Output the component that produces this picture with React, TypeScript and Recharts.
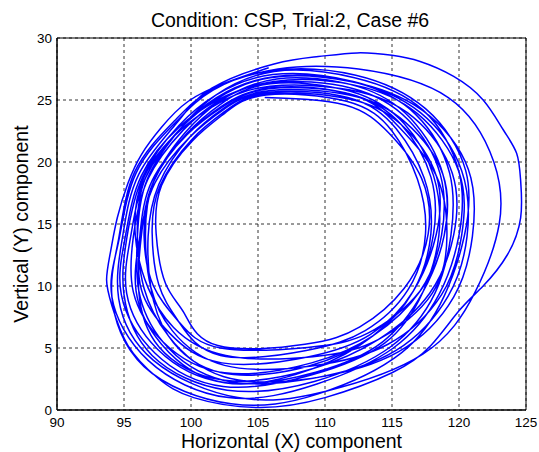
import {
  LineChart, Line, XAxis, YAxis, CartesianGrid, ReferenceArea,
} from "recharts";

// each loop of the trajectory, clockwise from the top, [x, y]
const loop01 = [[106, 26.4], [112, 25.95], [116.2, 23.4], [118.6, 19.0], [118.7, 14.1], [117.1, 9.6], [113.6, 6.0], [109, 3.8], [102.5, 3.0], [97.9, 5.5], [95.7, 9.5], [95.7, 14], [96.8, 18.65], [99.4, 22.55], [102.05, 24.9]];
const loop02 = [[105.8, 25.9], [111.8, 25.5], [115.7, 23.0], [117.9, 18.8], [118.1, 14.2], [116.6, 9.6], [113.4, 6.1], [108.8, 4.3], [102.3, 3.8], [98.4, 6.2], [96.3, 9.7], [96.2, 14.2], [97.1, 18.5], [99.7, 22.2], [102.3, 24.5]];
const loop03 = [[106.3, 26.9], [112.3, 26.4], [116.8, 23.8], [119.3, 19.1], [119.4, 14.1], [118.2, 9.4], [114.9, 5.1], [109.2, 2.3], [102.7, 1.6], [97.1, 4.4], [95.0, 9.3], [95.2, 13.8], [96.4, 18.8], [99.1, 22.95], [101.85, 25.4]];
const loop04 = [[105.6, 25.4], [111.6, 24.9], [115.0, 22.5], [116.9, 18.6], [117.5, 14.2], [116.2, 9.7], [113.0, 6.4], [108.6, 4.8], [102.2, 4.4], [99.1, 7.1], [97.6, 10.1], [97.1, 14.3], [97.7, 18.1], [100.05, 21.8], [102.55, 24.1]];
const loop05 = [[106.2, 27.3], [112.2, 26.8], [117.3, 24.2], [120.0, 19.2], [120.0, 14.1], [118.5, 9.3], [115.1, 5.0], [109.4, 2.1], [102.8, 1.0], [96.8, 4.0], [94.1, 9.1], [94.6, 13.6], [95.9, 19.1], [98.85, 23.2], [101.65, 25.8]];
const loop06 = [[105.9, 26.1], [111.9, 25.8], [116.6, 23.6], [119.5, 19.1], [119.6, 14.1], [117.8, 9.4], [114.0, 5.7], [109, 3.3], [102.5, 2.4], [97.6, 5.1], [96.1, 9.65], [96.3, 14.1], [97.2, 18.4], [99.65, 22.25], [102.2, 24.65]];
const loop07 = [[106.4, 26.7], [112.4, 26.1], [116.4, 23.5], [118.8, 19.0], [118.9, 14.1], [117.3, 9.5], [114.3, 5.5], [109.3, 3.05], [102.6, 2.2], [97.5, 4.9], [95.2, 9.4], [95.5, 14], [96.6, 18.7], [99.25, 22.75], [101.95, 25.1]];
const loop08 = [[105.7, 25.6], [111.7, 25.2], [115.3, 22.7], [117.4, 18.7], [117.9, 14.2], [116.6, 9.6], [113.6, 6.0], [108.8, 3.55], [102.3, 3.0], [98.3, 6.0], [97.0, 9.9], [96.8, 14], [97.6, 18.2], [99.9, 22.0], [102.45, 24.35]];
const loop09 = [[106.1, 27.05], [112.1, 26.5], [117.1, 24.0], [120.2, 19.3], [120.6, 14.0], [119.2, 9.2], [115.3, 4.8], [109.1, 2.55], [102.4, 2.4], [97.9, 5.5], [96.1, 9.65], [96.0, 14], [96.75, 18.65], [99.25, 22.75], [101.85, 25.4]];
const loop10 = [[105.9, 26.3], [111.9, 25.7], [115.9, 23.1], [118.1, 18.9], [118.5, 14.1], [117.3, 9.5], [114.45, 5.4], [108.9, 2.8], [102.4, 1.9], [97.3, 4.6], [94.8, 9.3], [95.1, 14], [96.3, 18.9], [99.15, 22.85], [102.0, 25.0]];
const loop11 = [[106.2, 26.5], [112.2, 26.2], [116.9, 23.9], [120.0, 19.2], [120.2, 14.1], [118.7, 9.3], [114.7, 5.3], [109, 3.55], [102.5, 3.6], [98.6, 6.4], [97.0, 9.9], [96.6, 14], [97.2, 18.4], [99.55, 22.35], [102.1, 24.85]];
const loop12 = [[105.8, 25.75], [111.8, 25.4], [116.0, 23.2], [118.8, 19.0], [118.9, 14.1], [117.1, 9.6], [113.2, 6.2], [108.7, 5.05], [102.2, 5.0], [99.1, 7.1], [97.2, 10.0], [96.5, 14], [97.2, 18.4], [99.7, 22.2], [102.35, 24.45]];
const loop13 = [[106.3, 27.4], [112.3, 27.0], [117.5, 24.3], [120.5, 19.3], [120.4, 14.05], [118.9, 9.2], [115.7, 4.6], [109.5, 1.3], [103, 0.5], [96.5, 3.5], [94.1, 9.1], [94.6, 13.8], [95.8, 19.2], [98.75, 23.3], [101.6, 25.85]];
const loop14 = [[105.5, 25.2], [111.5, 24.6], [114.8, 22.3], [117.2, 18.7], [117.7, 14.2], [115.9, 9.8], [112.6, 6.7], [108.5, 5.3], [102, 5.2], [99.5, 7.8], [98.1, 10.2], [97.4, 14.2], [97.8, 18.1], [100.1, 21.7], [102.6, 24.0]];
const loop15 = [[106.5, 27.5], [112.5, 27.5], [119.2, 25.2], [122.6, 20], [123, 15], [121.2, 9.5], [117.3, 4.5], [110, 1.5], [103.5, 1.0], [97.2, 4.0], [94.6, 9.0], [94.9, 14], [96.1, 19], [98.9, 23.1], [101.55, 25.95]];
const loop16 = [[106.1, 26.0], [112.1, 25.4], [115.5, 22.85], [118.3, 18.9], [119.1, 14.1], [118.0, 9.4], [114.0, 5.7], [109.1, 4.3], [102.6, 4.4], [98.7, 6.65], [96.8, 9.85], [95.85, 14], [96.5, 18.8], [99.3, 22.65], [102.15, 24.8]];
const loop17 = [[105.9, 26.8], [111.9, 26.5], [117.3, 24.15], [120.7, 19.4], [121.0, 14.0], [119.6, 9.1], [115.5, 4.7], [109.0, 2.55], [102.4, 2.7], [98.3, 6.0], [96.5, 9.8], [96.0, 14], [96.6, 18.7], [99.25, 22.75], [101.9, 25.2]];
const loop18 = [[105.7, 25.5], [111.7, 25.1], [115.7, 23.0], [118.3, 18.9], [118.3, 14.15], [116.6, 9.6], [113.6, 6.0], [109, 3.3], [102.5, 2.2], [97.8, 5.3], [95.9, 9.6], [96.2, 14], [97.3, 18.3], [99.9, 22.0], [102.45, 24.25]];
// the one wide loop that reaches x = 124.6
const loop19 = [[106.2, 27.9], [109.5, 28.5], [112.4, 28.8], [115, 28.6], [117.1, 28.1], [119.6, 26.9], [121.8, 25], [123.3, 22.6], [124.3, 20.7], [124.6, 18.5], [124.6, 15.5], [123.6, 12.5], [121.8, 10], [120, 8], [117.9, 5.2], [115, 3], [110, 1.0], [105, 0.2], [100.2, 1.0], [97.5, 2.6], [95.3, 5.2], [94.1, 8.4], [93.7, 10.5], [94.0, 12.8], [94.5, 15.5], [95.3, 18.3], [96.3, 20.6], [97.8, 22.8], [99.8, 24.9], [102.6, 26.4], [105.8, 27.6]];

// the trajectory spirals outward, loop by loop
const loops = [
  loop14, loop04, loop18, loop08, loop12, loop02, loop16, loop06, loop10, loop01,
  loop11, loop07, loop17, loop03, loop09, loop05, loop13, loop15, loop19,
];

const xTicks = [90, 95, 100, 105, 110, 115, 120, 125];
const yTicks = [0, 5, 10, 15, 20, 25, 30];

const title = "Condition: CSP, Trial:2, Case #6";
const xLabel = "Horizontal (X) component";
const yLabel = "Vertical (Y) component";

const font = "'Liberation Sans', Arial, Helvetica, sans-serif";

// one continuous path through all the loops
const trajectory = loops.flat().map(([x, y]) => ({ x, y }));

export default function App() {
  return (
    <div style={{ position: "absolute", left: 0, top: 0, width: 539, height: 452, background: "#fff", fontFamily: font }}>
      <LineChart
        width={539}
        height={452}
        margin={{ top: 38, right: 13, bottom: 0, left: 0 }}
      >
        <CartesianGrid stroke="#000" strokeDasharray="3 3" strokeWidth={0.8} />
        <XAxis
          type="number"
          dataKey="x"
          domain={[90, 125]}
          ticks={xTicks}
          allowDataOverflow
          height={42}
          tickSize={0}
          tickMargin={7}
          tick={{ fontSize: 13.5, fill: "#000", fontFamily: font }}
          axisLine={{ stroke: "#000" }}
          label={{
            value: xLabel,
            position: "insideBottom",
            offset: 4,
            style: { fontSize: 19.5, fill: "#000", fontFamily: font },
          }}
        />
        <YAxis
          type="number"
          dataKey="y"
          domain={[0, 30]}
          ticks={yTicks}
          allowDataOverflow
          width={57}
          tickSize={0}
          tickMargin={5}
          tick={{ fontSize: 13.5, fill: "#000", fontFamily: font }}
          axisLine={{ stroke: "#000" }}
          label={{
            value: yLabel,
            angle: -90,
            position: "insideLeft",
            offset: 21,
            style: { textAnchor: "middle", fontSize: 19.5, fill: "#000", fontFamily: font },
          }}
        />
        <ReferenceArea x1={90} x2={125} y1={0} y2={30} fill="none" stroke="#000" strokeWidth={1} />
        <Line
          data={trajectory}
          dataKey="y"
          type="natural"
          stroke="#0000ff"
          strokeWidth={1.5}
          dot={false}
          activeDot={false}
          isAnimationActive={false}
        />
      </LineChart>
      <svg width={539} height={40} style={{ position: "absolute", left: 0, top: 0 }}>
        <text x={290} y={27} textAnchor="middle" fontSize={19.5} fontFamily={font} fill="#000">
          {title}
        </text>
      </svg>
    </div>
  );
}
